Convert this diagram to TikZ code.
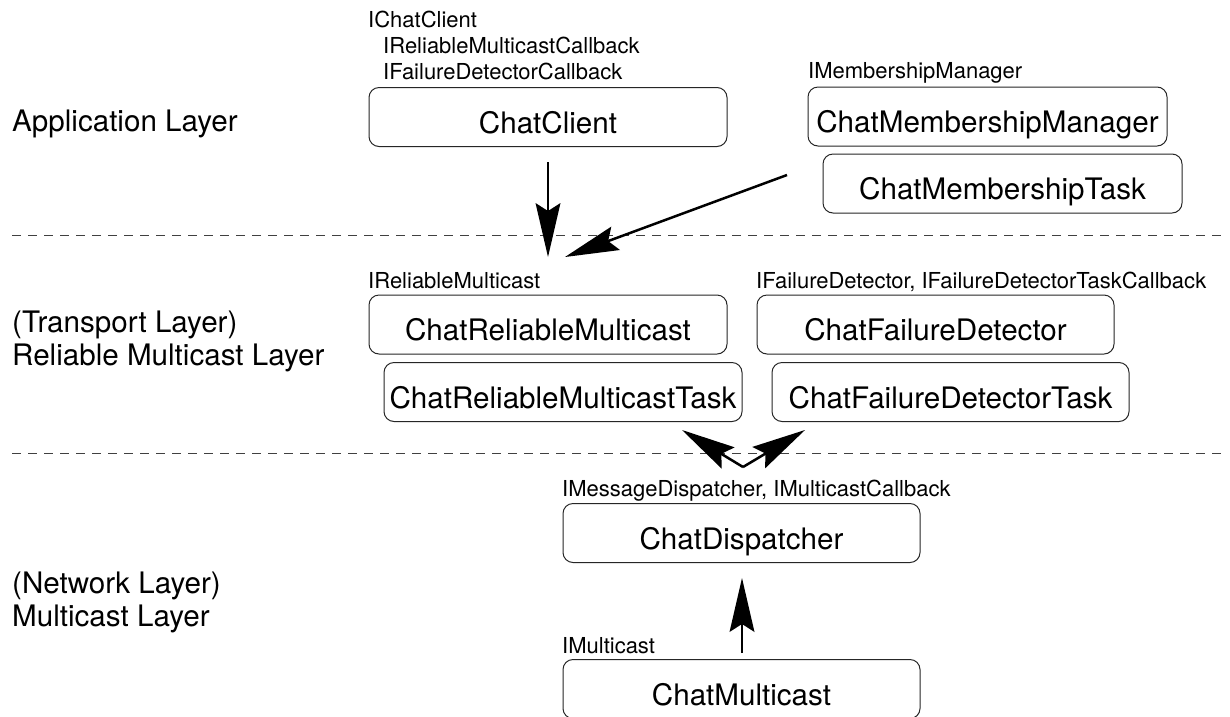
\documentclass[tikz,border=0pt]{standalone}
\usepackage{fontspec}
\setmainfont{TeX Gyre Heros}
\usetikzlibrary{decorations.markings}
\tikzset{
  box/.style={draw=black!85, line width=1pt, rounded corners=10pt,
    minimum width=358pt, minimum height=59pt, inner sep=0pt,
    font=\fontsize{29.6}{34}\selectfont, text height=32pt, text depth=0pt},
  iface/.style={anchor=base west, inner sep=0pt, font=\fontsize{22}{26}\selectfont},
  layer/.style={anchor=base west, inner sep=0pt, font=\fontsize{29.6}{34}\selectfont},
  sep/.style={draw=black!75, line width=1pt, dash pattern=on 9pt off 7pt},
  conn/.style={line width=2.5pt, shorten >=30pt,
    postaction={decorate},
    decoration={markings, mark=at position 1 with {
      \fill[black] (0pt,0pt) -- (-54pt,12.5pt) -- (-46pt,0pt) -- (-54pt,-12.5pt) -- cycle;}}}
}
\begin{document}
\begin{tikzpicture}[x=1pt, y=-1pt]
\clip (0,0) rectangle (1230,716);
\fill[white] (0,0) rectangle (1230,716);

% layer separators
\coordinate (s1a) at (12,235);
\coordinate (s1b) at (1226,235);
\coordinate (s2a) at (12,453);
\coordinate (s2b) at (1226,453);
\draw[sep] (s1a) -- (s1b);
\draw[sep] (s2a) -- (s2b);

% layer labels
\node[layer] (lapp) at (12,131) {Application Layer};
\node[layer] (ltr1) at (12,332) {(Transport Layer)};
\node[layer] (ltr2) at (12,365) {Reliable Multicast Layer};
\node[layer] (lnw1) at (12,593) {(Network Layer)};
\node[layer] (lnw2) at (12,626) {Multicast Layer};

% application layer
\node[box] (cc) at (548,117) {ChatClient};
\node[box, minimum width=359pt] (cmm) at (987.5,116.5) {ChatMembershipManager};
\node[box, minimum width=359pt] (cmt) at (1002.5,183.5) {ChatMembershipTask};
\node[iface] (icc) at (368,27) {IChatClient};
\node[iface] (irmc) at (383,53) {IReliableMulticastCallback};
\node[iface] (ifdc) at (383,79) {IFailureDetectorCallback};
\node[iface] (imm) at (808,78) {IMembershipManager};

% transport layer
\node[box] (crm) at (548,324.5) {ChatReliableMulticast};
\node[box] (crmt) at (563,392) {ChatReliableMulticastTask};
\node[box, minimum width=357pt] (cfd) at (935.5,324.5) {ChatFailureDetector};
\node[box, minimum width=357pt] (cfdt) at (950.5,392) {ChatFailureDetectorTask};
\node[iface] (irm) at (368,288) {IReliableMulticast};
\node[iface] (ifd) at (756,288) {IFailureDetector, IFailureDetectorTaskCallback};

% network layer
\node[box, minimum width=357pt] (cd) at (741.5,533) {ChatDispatcher};
\node[box, minimum width=357pt] (cm) at (741.5,689) {ChatMulticast};
\node[iface] (imd) at (562,496) {IMessageDispatcher, IMulticastCallback};
\node[iface] (imc) at (562,653) {IMulticast};

% connectors
\coordinate (a1s) at (548,162);
\coordinate (a1e) at (548,257);
\coordinate (a2s) at (787,175);
\coordinate (a2e) at (565,257);
\coordinate (v) at (743,467);
\coordinate (a3l) at (682,430);
\coordinate (a3r) at (805,430);
\coordinate (a4s) at (742,653);
\coordinate (a4e) at (742,578);

\draw[conn] (a1s) -- (a1e);
\draw[conn] (a2s) -- (a2e);
\draw[conn] (v) -- (a3l);
\draw[conn] (v) -- (a3r);
\draw[conn] (a4s) -- (a4e);
\end{tikzpicture}
\end{document}
